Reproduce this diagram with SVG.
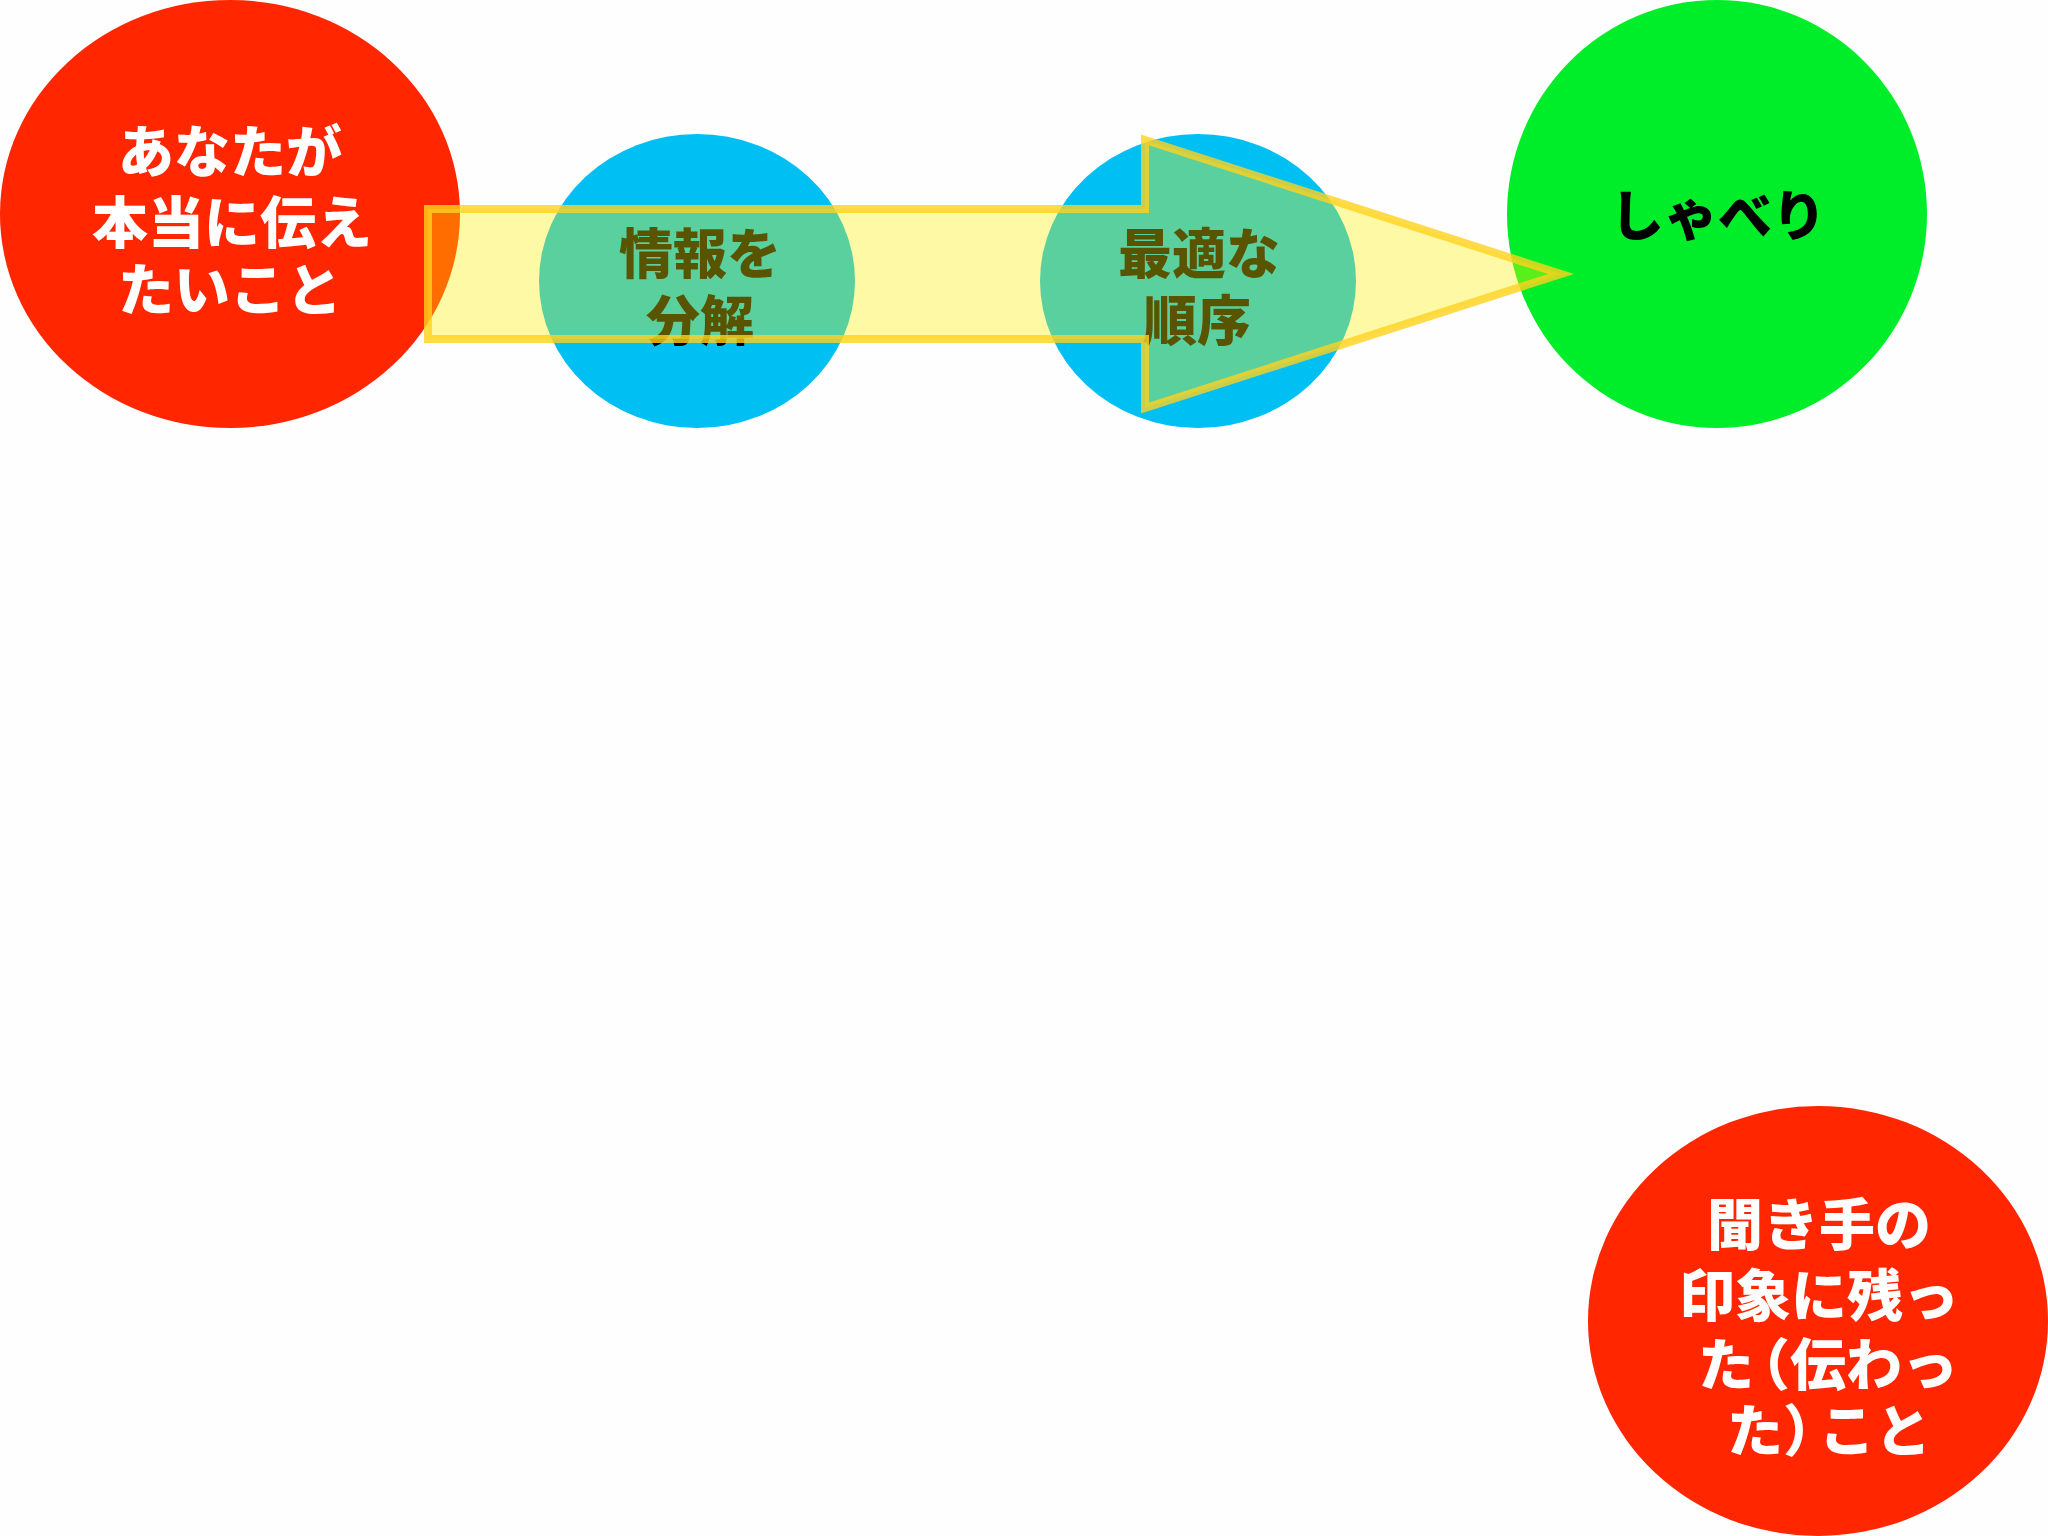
<svg xmlns="http://www.w3.org/2000/svg" width="2048" height="1536" viewBox="0 0 2048 1536">
<style>
.t{font-family:"Noto Sans CJK JP","Noto Sans",sans-serif;font-weight:900;text-anchor:middle}
.w{fill:#ffffff;font-size:56px}
.k{fill:#000000;font-size:54px}
</style>
<rect width="2048" height="1536" fill="#fefefe"/>
<g id="node-start">
<ellipse cx="230" cy="214" rx="230" ry="214" fill="#ff2600"/>
<text class="t w" x="230" y="172">あなたが</text>
<text class="t w" x="232" y="243">本当に伝え</text>
<text class="t w" x="230" y="310">たいこと</text>
</g>
<g id="node-decompose">
<ellipse cx="697" cy="281" rx="158" ry="147" fill="#00bff3"/>
<text class="t k" x="700" y="274">情報を</text>
<text class="t k" x="700" y="341">分解</text>
</g>
<g id="node-order">
<ellipse cx="1198" cy="281" rx="158" ry="147" fill="#00bff3"/>
<text class="t k" x="1199" y="274">最適な</text>
<text class="t k" x="1197" y="341">順序</text>
</g>
<g id="node-talk">
<ellipse cx="1717" cy="214" rx="210" ry="214" fill="#00ee2a"/>
<text class="t k" x="1718" y="236">しゃべり</text>
</g>
<g id="node-result">
<ellipse cx="1818" cy="1321" rx="230" ry="215" fill="#ff2600"/>
<text class="t w" x="1819" y="1245">聞き手の</text>
<text class="t w" x="1819" y="1316">印象に残っ</text>
<text class="t w" x="1828" y="1385">た<tspan dx="-20">（伝わっ</tspan></text>
<text class="t w" x="1829" y="1451">た）<tspan dx="-20">こと</tspan></text>
</g>
<g id="connectors">
<polygon points="428,209 1145,209 1145,140 1561,274 1145,408 1145,339 428,339" fill="#fff000" fill-opacity="0.35" stroke="#ffd21e" stroke-opacity="0.8" stroke-width="8"/>
</g>
</svg>
